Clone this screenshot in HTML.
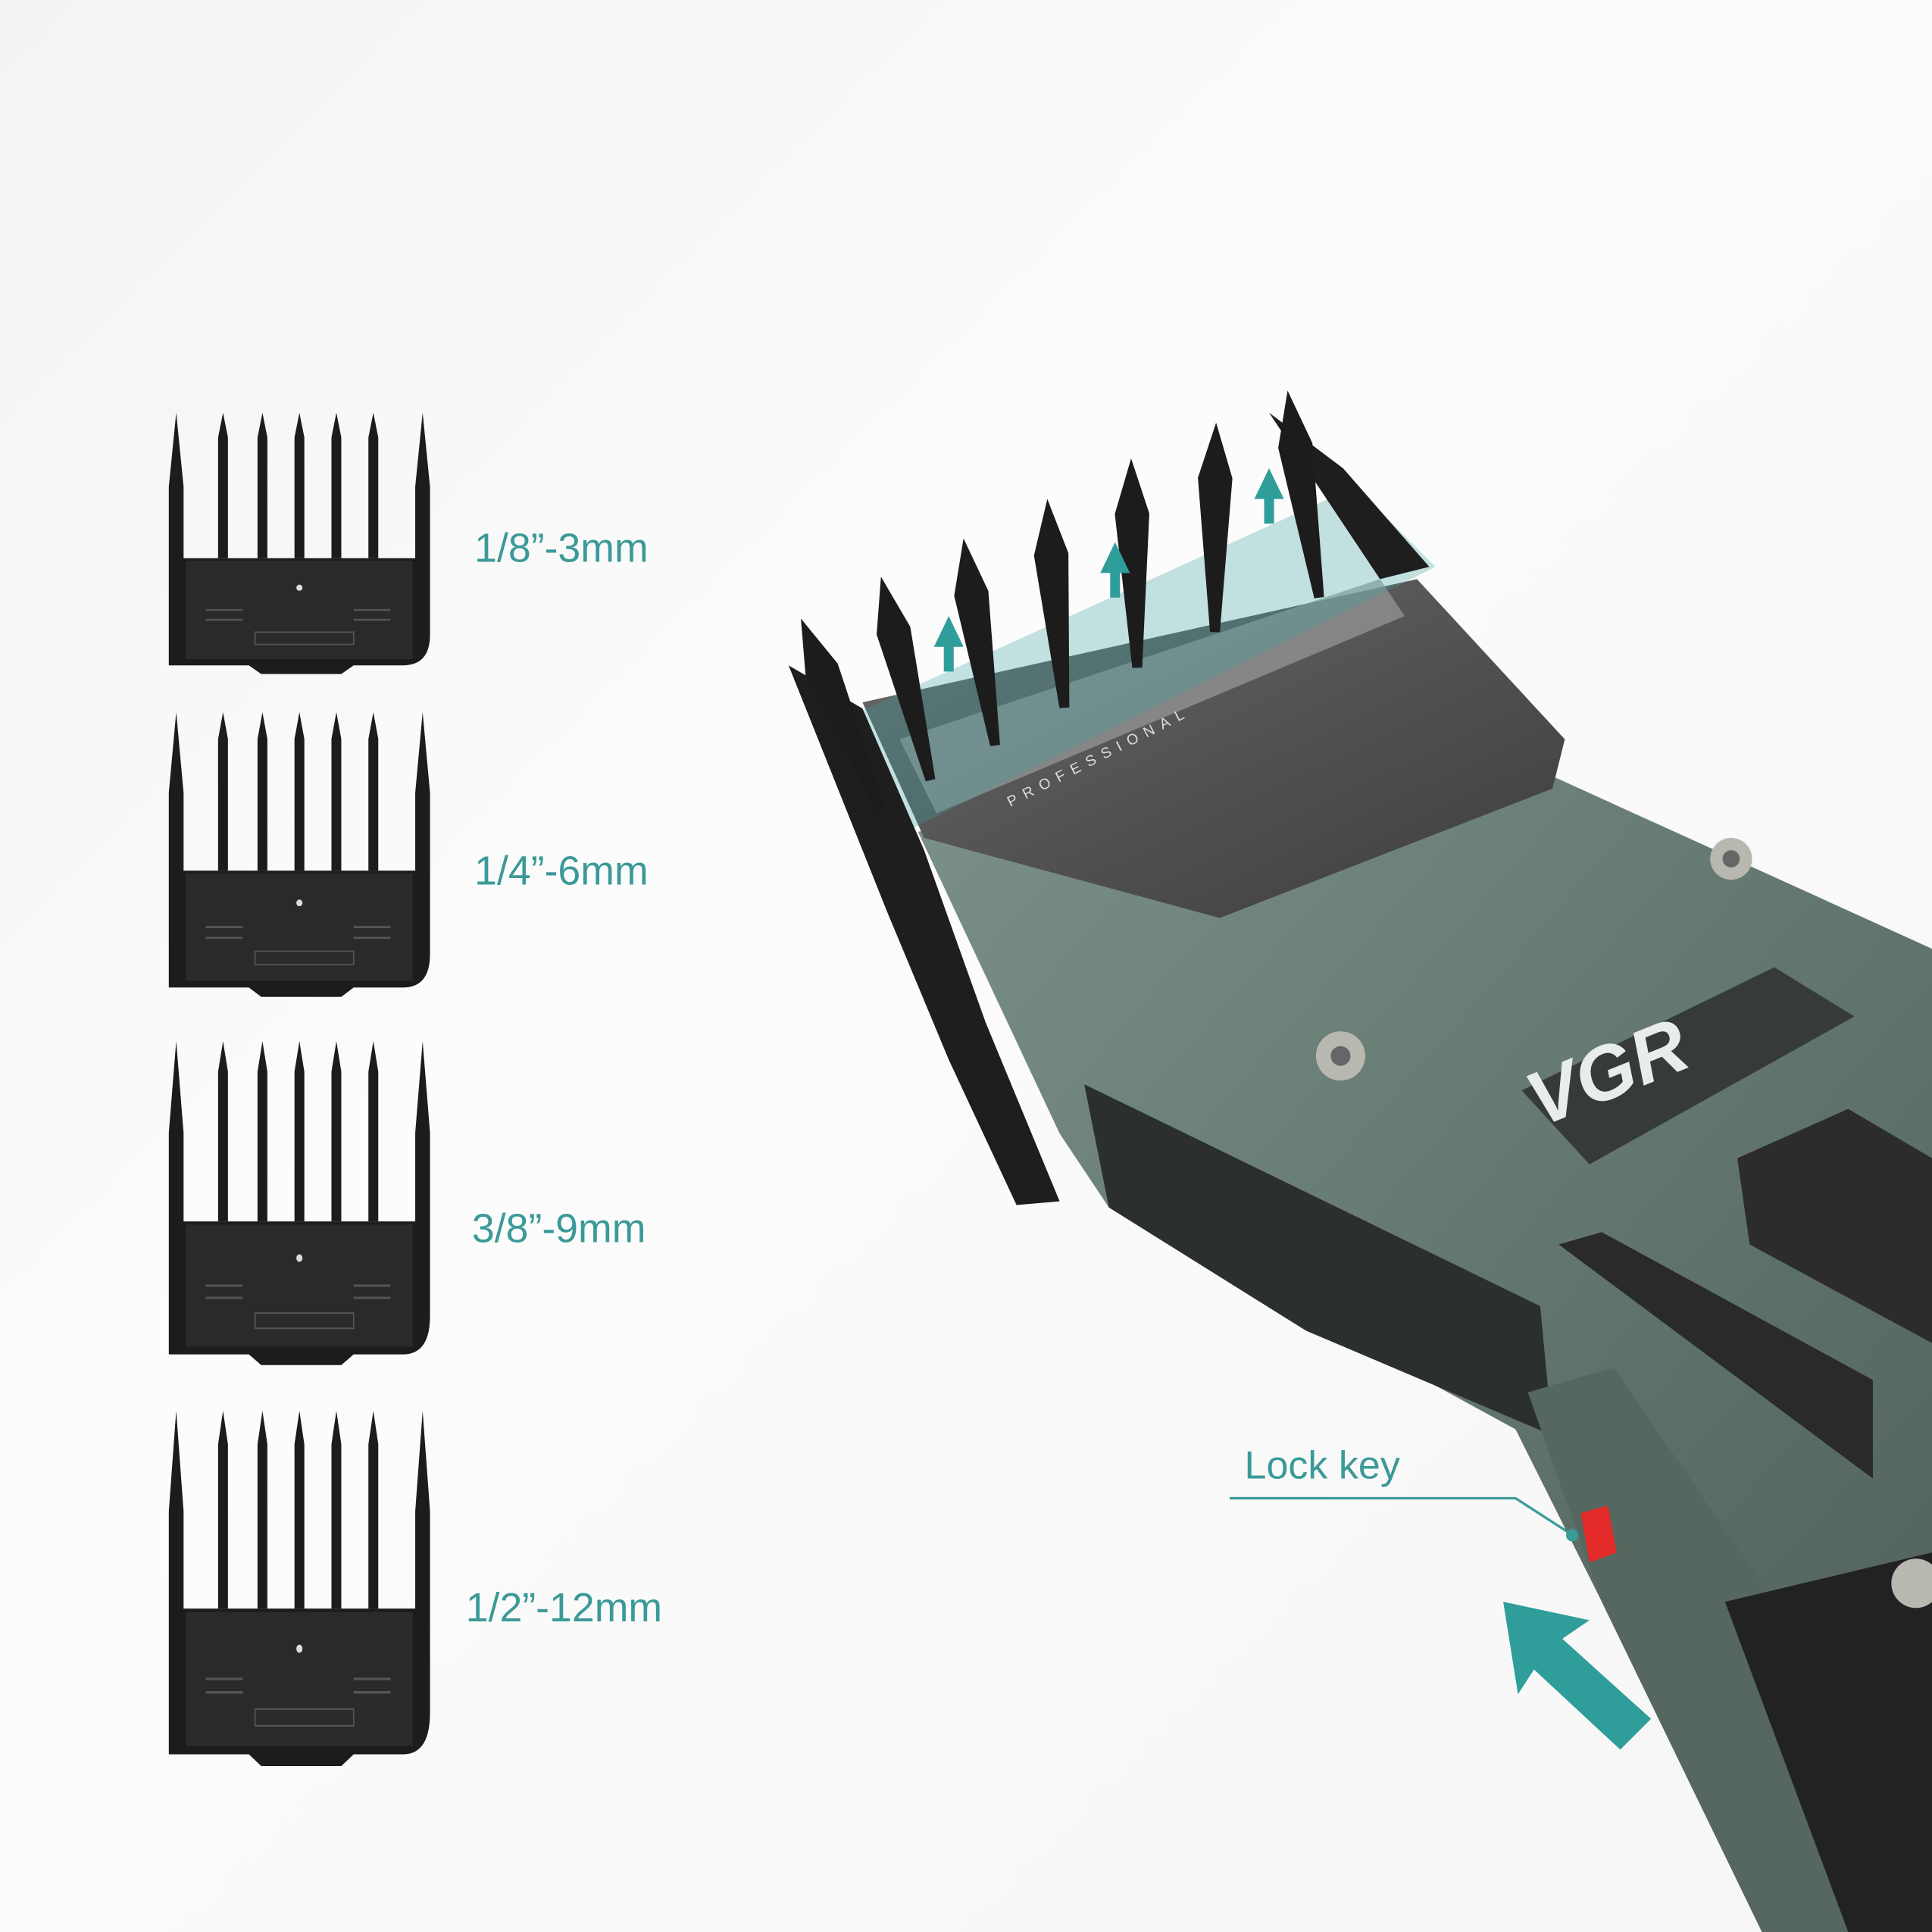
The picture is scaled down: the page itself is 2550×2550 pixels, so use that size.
<!DOCTYPE html>
<html><head><meta charset="utf-8"><style>
html,body{margin:0;padding:0;background:#fafafa}
svg{display:block}
</style></head><body>
<svg width="2550" height="2550" viewBox="0 0 1568 1568" xmlns="http://www.w3.org/2000/svg">
<defs>
<linearGradient id="bg" x1="0" y1="0" x2="1" y2="1">
<stop offset="0" stop-color="#f3f3f3"/><stop offset="0.4" stop-color="#fcfcfc"/><stop offset="1" stop-color="#f6f6f6"/>
</linearGradient>
<linearGradient id="body" x1="0" y1="0" x2="1" y2="1">
<stop offset="0" stop-color="#7b9088"/><stop offset="0.5" stop-color="#63776f"/><stop offset="1" stop-color="#4d5e57"/>
</linearGradient>
<linearGradient id="blade" x1="0" y1="0" x2="1" y2="1">
<stop offset="0" stop-color="#6a6a6a"/><stop offset="1" stop-color="#3c3c3c"/>
</linearGradient>
<g id="comb">
<path d="M0,205 L0,60 L6,0 L12,60 L12,118 L200,118 L200,60 L206,0 L212,60 L212,180 Q212,205 190,205 L150,205 L140,212 L75,212 L65,205 Z" fill="#1c1c1c"/>
<g fill="#1c1c1c">
<path d="M40,118 L40,20 L44,0 L48,20 L48,118Z"/>
<path d="M72,118 L72,20 L76,0 L80,20 L80,118Z"/>
<path d="M102,118 L102,20 L106,0 L110,20 L110,118Z"/>
<path d="M132,118 L132,20 L136,0 L140,20 L140,118Z"/>
<path d="M162,118 L162,20 L166,0 L170,20 L170,118Z"/>
</g>
<rect x="14" y="120" width="184" height="80" fill="#2a2a2a"/>
<g stroke="#555" stroke-width="1.5"><line x1="30" y1="160" x2="60" y2="160"/><line x1="30" y1="168" x2="60" y2="168"/><line x1="150" y1="160" x2="180" y2="160"/><line x1="150" y1="168" x2="180" y2="168"/></g>
<rect x="70" y="178" width="80" height="10" fill="none" stroke="#555" stroke-width="1"/>
<circle cx="106" cy="142" r="2.5" fill="#ddd"/>
</g>
<g id="tooth"><path d="M0,0 L14,45 L6,170 L-2,170 L-14,45 Z" fill="#1c1c1c"/></g>
</defs>
<rect width="1568" height="1568" fill="url(#bg)"/>

<use href="#comb" transform="translate(137,335) scale(1,1)"/>
<use href="#comb" transform="translate(137,578) scale(1,1.09)"/>
<use href="#comb" transform="translate(137,845) scale(1,1.24)"/>
<use href="#comb" transform="translate(137,1145) scale(1,1.36)"/>

<g font-family="Liberation Sans, sans-serif" font-size="33" fill="#3b9a98">
<text x="385" y="456">1/8”-3mm</text>
<text x="385" y="718">1/4”-6mm</text>
<text x="383" y="1008">3/8”-9mm</text>
<text x="378" y="1316">1/2”-12mm</text>
</g>

<!-- clipper body -->
<path d="M745,675 L1000,640 L1260,630 L1568,770 L1568,1568 L1430,1568 L1300,1300 L1230,1160 L900,980 L860,920 Z" fill="url(#body)"/>
<path d="M880,880 L1250,1060 L1260,1165 L1060,1080 L900,980 Z" fill="#2b2f2d"/>
<path d="M1240,1130 L1310,1110 L1440,1300 L1500,1568 L1430,1568 L1300,1300 Z" fill="#55675f"/>
<path d="M1400,1300 L1568,1260 L1568,1568 L1500,1568 Z" fill="#222"/>
<path d="M1265,1010 L1300,1000 L1520,1120 L1520,1200 Z" fill="#2a2a2a"/>
<path d="M1410,940 L1500,900 L1568,940 L1568,1090 L1420,1010 Z" fill="#2c2c2c"/>
<path d="M1235,885 L1440,785 L1505,825 L1290,945 Z" fill="#363b39"/>
<text x="1250" y="915" transform="rotate(-22 1250 915)" font-family="Liberation Sans, sans-serif" font-weight="bold" font-style="italic" font-size="62" fill="#e8ecea">VGR</text>
<circle cx="1088" cy="857" r="20" fill="#b8b8b0"/><circle cx="1088" cy="857" r="8" fill="#666"/>
<circle cx="1405" cy="697" r="17" fill="#b8b8b0"/><circle cx="1405" cy="697" r="7" fill="#666"/>
<circle cx="1555" cy="1285" r="20" fill="#b8b8b0"/>
<!-- blade -->
<path d="M700,570 L1150,470 L1270,600 L1260,640 L990,745 L750,680 Z" fill="url(#blade)"/>
<path d="M730,600 L1120,470 L1140,500 L760,660 Z" fill="#9a9a9a" opacity="0.7"/>
<text x="820" y="655" transform="rotate(-27 820 655)" font-family="Liberation Sans, sans-serif" font-size="12" letter-spacing="6" fill="#ddd">PROFESSIONAL</text>
<path d="M670,590 L1100,395 L1165,460 L705,690 Z" fill="#3aa3a0" opacity="0.3"/>
<!-- guard side -->
<path d="M640,540 L700,575 L750,690 L800,830 L860,975 L825,978 L770,860 L720,740 L680,640 Z" fill="#1e1e1e"/>
<path d="M1030,335 L1090,380 L1160,460 L1120,470 Z" fill="#1e1e1e"/>
<!-- comb teeth -->
<use href="#tooth" transform="translate(650,502) rotate(-22)"/>
<use href="#tooth" transform="translate(715,468) rotate(-13)"/>
<use href="#tooth" transform="translate(782,437) rotate(-8)"/>
<use href="#tooth" transform="translate(850,405) rotate(-4)"/>
<use href="#tooth" transform="translate(918,372) rotate(-1)"/>
<use href="#tooth" transform="translate(987,343) rotate(1)"/>
<use href="#tooth" transform="translate(1045,317) rotate(-8)"/>
<g fill="#2f9e9a">
<path d="M770,500 L782,525 L774,525 L774,545 L766,545 L766,525 L758,525 Z"/>
<path d="M905,440 L917,465 L909,465 L909,485 L901,485 L901,465 L893,465 Z"/>
<path d="M1030,380 L1042,405 L1034,405 L1034,425 L1026,425 L1026,405 L1018,405 Z"/>
</g>
<text x="1010" y="1200" font-family="Liberation Sans, sans-serif" font-size="32" fill="#3b9a98">Lock key</text>
<polyline points="998,1216 1230,1216 1275,1245" fill="none" stroke="#3b9a98" stroke-width="2"/>
<circle cx="1276" cy="1246" r="5" fill="#3b9a98"/>
<path d="M1283,1228 L1305,1222 L1312,1260 L1290,1268 Z" fill="#e52a2a"/>
<path d="M1220,1300 L1290,1315 L1268,1330 L1340,1395 L1315,1420 L1245,1355 L1232,1375 Z" fill="#2f9e9a"/>
</svg>
</body></html>
